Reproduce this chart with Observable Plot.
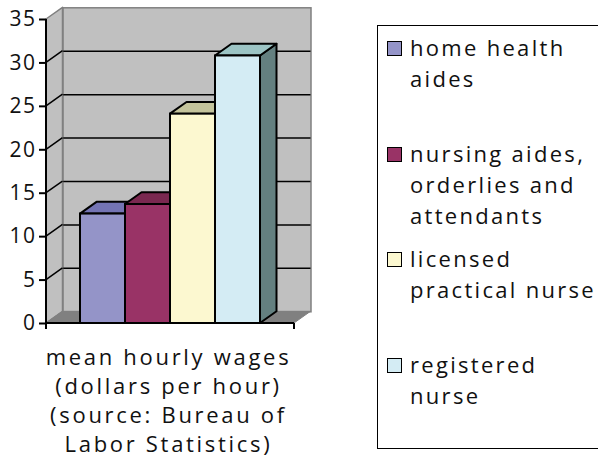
<!DOCTYPE html>
<html>
<head>
<meta charset="utf-8">
<script src="https://cdn.jsdelivr.net/npm/d3@7"></script>
<script src="https://cdn.jsdelivr.net/npm/@observablehq/plot@0.6"></script>
<style>
  body { margin: 0; background: #fff; }
  #wrap { position: relative; width: 598px; height: 465px; overflow: hidden; background: #fff; font-family: "Open Sans", sans-serif; color: #111; }
  #legend { position: absolute; left: 377px; top: 25px; width: 260px; height: 424px; border: 1.5px solid #000; box-sizing: border-box; padding-top: 6px; }
  .item { position: relative; height: 105.5px; }
  .sw { position: absolute; left: 8.5px; top: 9px; width: 15px; height: 15px; border: 1.5px solid #000; box-sizing: border-box; }
  .lbl { position: absolute; left: 32px; top: 0; font-size: 22px; line-height: 31px; letter-spacing: 2.3px; white-space: pre; }
</style>
</head>
<body>
<div id="wrap"></div>
<script>
// ---- data ----
const categories = ["home health aides", "nursing aides, orderlies and attendants", "licensed practical nurse", "registered nurse"];
const wages = [12.6, 13.7, 24.1, 30.8];
const yTicks = [0, 5, 10, 15, 20, 25, 30, 35];
const gridTicks = [5, 10, 15, 20, 25, 30];
const legendLines = [["home health", "aides"], ["nursing aides,", "orderlies and", "attendants"], ["licensed", "practical nurse"], ["registered", "nurse"]];
const titleLines = ["mean hourly wages", "(dollars per hour)", "(source: Bureau of", "Labor Statistics)"];

// ---- style ----
const frontColors = ["#9494c8", "#993366", "#fcf8d0", "#d4ecf4"];
const topColors = ["#7474b4", "#7a2850", "#c4c49c", "#9cc4c4"];
const sideColors = ["#6a6aa0", "#6a2040", "#aaaa88", "#648080"];
const DX = 16.5, DY = 11.7; // 3D depth offset

const data = categories.map((c, i) => ({category: c, wage: wages[i]}));

function poly(g, pts, fill, stroke, sw) {
  g.append("path").attr("d", "M" + pts.map(p => p.join(",")).join("L") + "Z")
    .attr("fill", fill).attr("stroke", stroke).attr("stroke-width", sw).attr("stroke-linejoin", "round");
}

// left wall + floor + diagonal gridlines
function walls(index, scales, values, dim) {
  const {y} = scales;
  const x0 = dim.marginLeft, x1 = dim.width - dim.marginRight;
  const y0 = y(0), yT = y(35);
  const g = d3.create("svg:g");
  poly(g, [[x0, yT], [x0 + DX, yT - DY], [x0 + DX, y0 - DY], [x0, y0]], "#c0c0c0", "#808080", 1.5);
  poly(g, [[x0, y0], [x1, y0], [x1 + DX, y0 - DY], [x0 + DX, y0 - DY]], "#808080", "#808080", 1);
  for (const v of gridTicks) {
    g.append("line").attr("x1", x0).attr("y1", y(v)).attr("x2", x0 + DX).attr("y2", y(v) - DY)
      .attr("stroke", "#000").attr("stroke-width", 1.5);
  }
  return g.node();
}

function bars3d(index, scales, values, dim) {
  const {x, y} = scales;
  const bw = x.bandwidth();
  const g = d3.create("svg:g");
  data.forEach((d, i) => {
    const l = x(d.category), r = l + bw, t = y(d.wage), b = y(0);
    poly(g, [[r, t], [r + DX, t - DY], [r + DX, b - DY], [r, b]], sideColors[i], "#000", 2);
  });
  data.forEach((d, i) => {
    const l = x(d.category), r = l + bw, t = y(d.wage);
    poly(g, [[l, t], [l + DX, t - DY], [r + DX, t - DY], [r, t]], topColors[i], "#000", 2);
  });
  return g.node();
}

function axesLines(index, scales, values, dim) {
  const {y} = scales;
  const x0 = dim.marginLeft, x1 = dim.width - dim.marginRight;
  const y0 = y(0), yT = y(35);
  const g = d3.create("svg:g").attr("stroke", "#000").attr("stroke-width", 2);
  g.append("line").attr("x1", x0).attr("y1", yT).attr("x2", x0).attr("y2", y0 + 6);
  g.append("line").attr("x1", x0).attr("y1", y0).attr("x2", x1).attr("y2", y0);
  g.append("line").attr("x1", x1).attr("y1", y0).attr("x2", x1).attr("y2", y0 + 6);
  return g.node();
}

const plot = Plot.plot({
  width: 598,
  height: 465,
  marginLeft: 46,
  marginRight: 304,
  marginTop: 19,
  marginBottom: 142,
  x: {domain: categories, paddingInner: 0, paddingOuter: 0.75, axis: null},
  y: {domain: [0, 35], axis: null},
  color: {domain: categories, range: frontColors},
  style: {fontFamily: "Open Sans", fontSize: "22px", background: "transparent", color: "#111"},
  marks: [
    Plot.frame({fill: "#c0c0c0", stroke: "#808080", strokeWidth: 1.5, dx: DX, dy: -DY}),
    Plot.ruleY(gridTicks, {stroke: "#000", strokeWidth: 1.5, dx: DX, dy: -DY}),
    walls,
    bars3d,
    Plot.barY(data, {x: "category", y: "wage", fill: "category", stroke: "#000", strokeWidth: 2}),
    axesLines,
    Plot.axisY({ticks: yTicks, label: null, tickSize: 7, tickPadding: 3, fontSize: 21, tickFormat: d => String(d), stroke: "#000", strokeWidth: 2}),
    Plot.text([titleLines.join("\n")], {frameAnchor: "bottom", lineAnchor: "top", dy: 20.5, lineHeight: 1.32, fontSize: 22, fill: "#111", dx: -2})
  ]
});
d3.select(plot).style("letter-spacing", "2.7px");
d3.select(plot).selectAll('g[aria-label="y-axis tick label"] text').style("letter-spacing", "1.5px");

const wrap = document.getElementById("wrap");
wrap.appendChild(plot);
plot.style.position = "absolute";
plot.style.left = "0";
plot.style.top = "0";

const legend = document.createElement("div");
legend.id = "legend";
categories.forEach((c, i) => {
  const item = document.createElement("div");
  item.className = "item";
  const sw = document.createElement("div");
  sw.className = "sw";
  sw.style.background = frontColors[i];
  const lbl = document.createElement("div");
  lbl.className = "lbl";
  lbl.textContent = legendLines[i].join("\n");
  item.appendChild(sw);
  item.appendChild(lbl);
  legend.appendChild(item);
});
wrap.appendChild(legend);
</script>
</body>
</html>
